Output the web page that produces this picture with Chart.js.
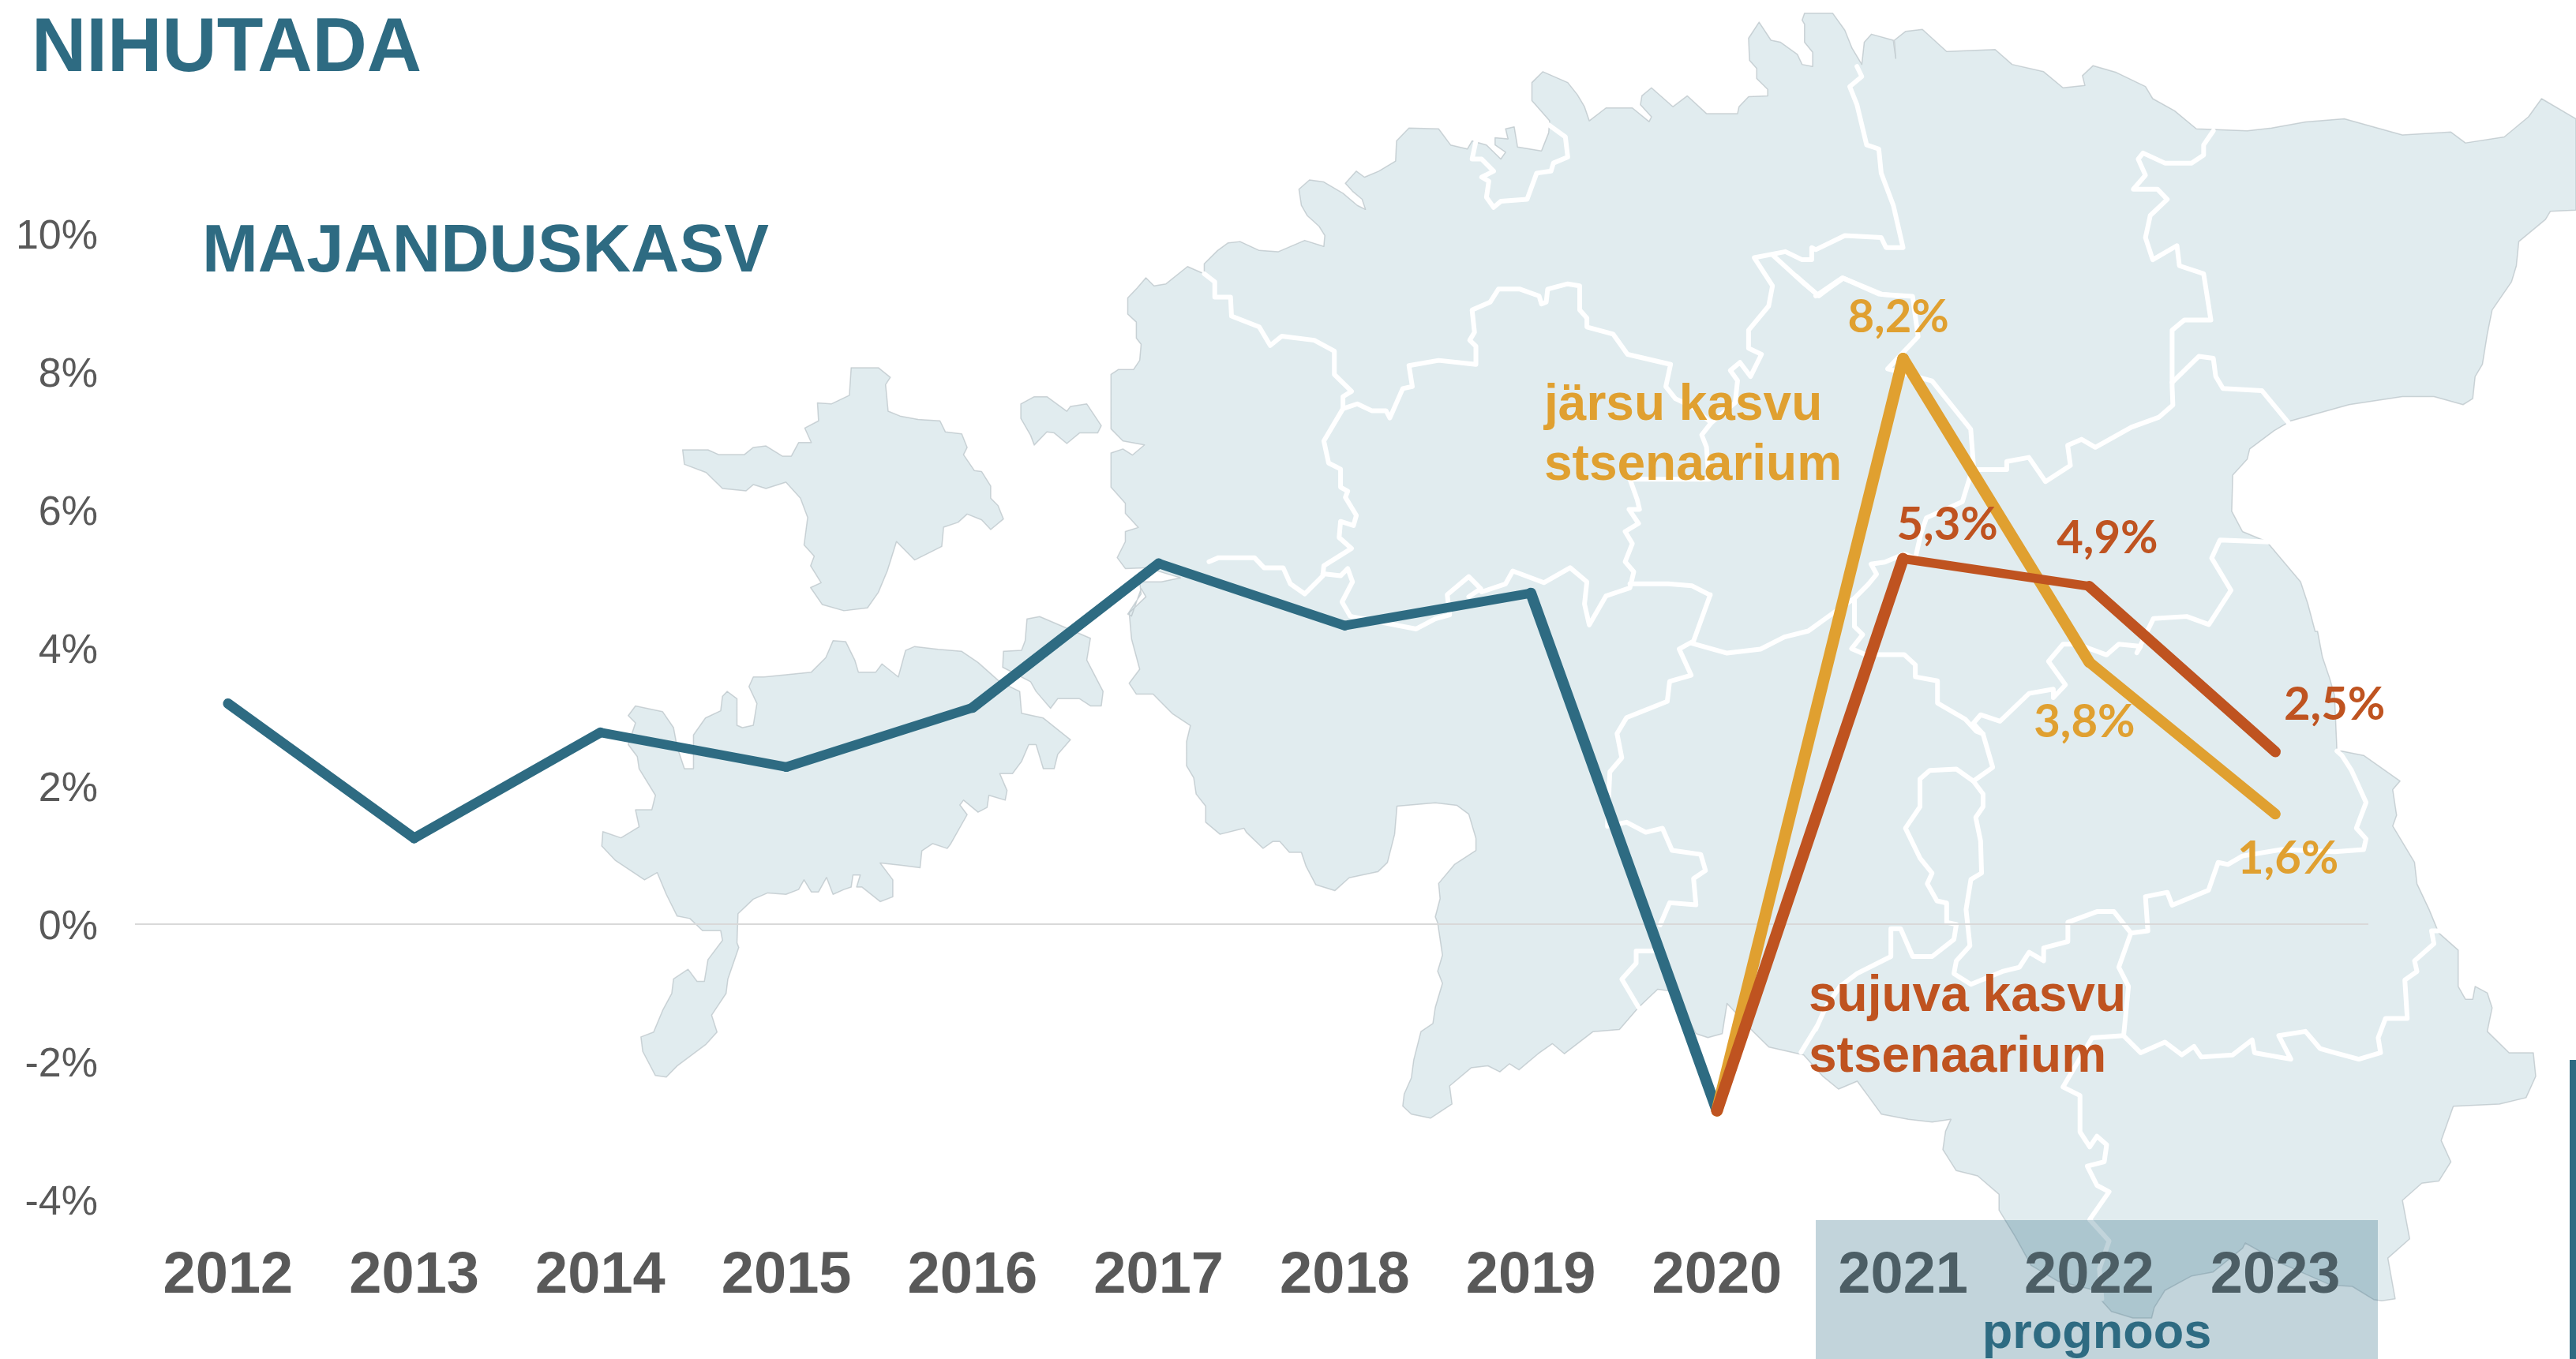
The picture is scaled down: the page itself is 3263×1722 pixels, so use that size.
<!DOCTYPE html>
<html lang="et"><head><meta charset="utf-8">
<script src="https://cdn.jsdelivr.net/npm/chart.js@4/dist/chart.umd.js"></script>
<style>html,body{margin:0;padding:0;background:#fff}canvas{display:block}</style>
</head><body><canvas id="c" width="3263" height="1722"></canvas>
<script>
// ---------- data ----------
const years = ['2012','2013','2014','2015','2016','2017','2018','2019','2020','2021','2022','2023'];
const actual = [3.2,1.25,2.78,2.28,3.14,5.23,4.33,4.8,-2.7,null,null,null];
const fastScenario = [null,null,null,null,null,null,null,null,-2.7,8.2,3.8,1.6];
const smoothScenario = [null,null,null,null,null,null,null,null,-2.7,5.3,4.9,2.5];
const yTicks = [-4,-2,0,2,4,6,8,10];

// ---------- colours / fonts ----------
const TEAL='#2E6B82', GOLD='#E0A030', RUST='#BF5320', GREY='#595959', LAND='#E1ECEF';
const SANS='"Liberation Sans", Arial, sans-serif', LATO='Lato, sans-serif';

// ---------- decorative Estonia map, traced as page background ----------
const frames={A:[1380,0,950,800,1568,1568],B:[2300,0,963,800,1568,1568],C:[1400,700,950,800,1568,1568],
 D:[2300,800,963,850,1568,1568],E:[2200,1300,1063,422,1568,1266],F:[720,420,720,960,1568,1568],Z:[1900,350,1100,800,1568,1568]};
const mapMain=[
['A',45,930,60,918,92,918,105,895,108,855,98,840,98,800,80,780,80,740,100,715,118,690,135,710,160,705,205,662,240,680,240,655,268,622,290,603,315,600,355,622,395,625,450,597,490,612,492,585,480,562,455,535,443,510,438,470,460,447,490,452,530,480,560,510,577,520,570,495,550,475,535,455,558,425,575,440,605,425,640,400,642,350,668,318,730,320,755,360,790,370,800,350,830,360,860,395,870,378,848,360,848,342,875,345,870,320,888,315,895,365,945,375,960,330,962,300,925,250,925,205,948,178,1000,205,1020,235,1035,265,1045,300,1080,268,1135,268,1170,302,1175,290,1152,260,1155,238,1175,218,1220,265,1250,238,1290,282,1355,282,1358,265,1378,240,1418,238,1418,222,1395,195,1395,170,1380,150,1378,95,1400,55,1425,100,1445,105,1480,135,1490,160,1512,165,1512,130,1495,105,1495,60,1490,50,1495,33],
['B',35,33,60,75,75,120,95,160,100,105,115,85,160,100,165,145,162,100,185,78,220,73,270,128,370,123,405,160,470,178,510,218,555,212,550,188,572,163,620,180,680,215,695,245,740,275,785,320,890,325,940,318,1010,303,1090,295,1210,335,1310,328,1340,355,1420,340,1470,290,1497,245,1568,295,1568,522,1515,525,1505,545,1450,600,1445,660,1435,700,1395,770,1385,830,1375,905,1360,935,1355,990,1335,1005,1275,985,1210,985,1100,1005,980,1045,945,1070,895,1115,890,1140,860,1180,858,1270,880,1320,930,1345,1000,1445,1015,1500,1030,1568],
['D',1035,0,1045,60,1060,110,1070,150,1075,280,1085,280,1130,290,1205,350,1190,370,1198,430,1190,455,1235,540,1240,590,1265,650,1285,705,1325,745,1325,830,1340,860,1355,860,1360,830,1385,845,1395,880,1385,935,1430,985,1480,985,1485,1040,1465,1090,1410,1105,1315,1110,1290,1190,1310,1240,1285,1285,1250,1290,1210,1330,1225,1420,1180,1465,1195,1560],
['E',1205,1045,1190,1040,1150,990,1110,985,1020,905,950,825,945,845,890,935,850,950,800,1005,780,1070,775,1110,740,1110,700,1085,680,1040,680,1010,600,970,550,910,520,800,490,700,490,640,450,570,410,550,385,470,390,400,400,355,365,365,320,355,270,335,245,265,225,210,190,240,160,190,125,110,60,80,30,20],
['C',1300,1120,1290,1195,1260,1205,1235,1195,1185,1090,1155,1085,1115,1130,1075,1185,1020,1190,960,1245,935,1220,905,1245,865,1285,845,1270,825,1290,800,1275,765,1280,720,1325,725,1370,680,1405,640,1395,622,1375,625,1345,640,1305,645,1260,660,1190,685,1170,690,1130,705,1070,695,1040,705,1000,695,920,690,905,700,860,697,822,730,775,775,740,775,710,760,650,735,628,690,622,610,630,605,700,590,770,570,793,510,808,480,840,440,825,420,780,410,745,385,745,365,718,350,718,330,735,295,695,290,685,240,700,210,670,210,630,190,600,185,560,170,530,170,470,178,430,140,400,115,370,100,352,65,352,50,325,72,290,55,215,50,150,85,110,75,90],
['A',88,1530,80,1525,108,1475,105,1445,150,1445,190,1435,120,1410,75,1412,58,1385,75,1345,75,1320,102,1310,75,1275,75,1250,45,1210,45,1125,70,1115,90,1130,115,1105,70,1095,45,1065]
];
const mapIslands=[
[['F',315,245,385,245,415,255,485,255,510,240,545,237,590,258,615,258,635,230,670,230,652,200,690,185,687,148,725,150,775,132,780,75,855,75,888,95,875,110,882,165,915,175,965,182,1025,185,1040,208,1085,212,1100,240,1090,255,1120,288,1140,290,1165,320,1165,345,1185,360,1200,388,1165,410,1140,390,1100,378,1075,395,1035,405,1030,445,990,460,955,473,905,435,880,495,855,540,825,572,760,578,700,565,668,530,697,520,668,485,678,465,650,442,660,385,640,345,600,312,545,325,510,317,490,330,425,325,380,292,320,275]],
[['F',165,795,185,775,260,787,290,820,300,860,320,905,345,905,345,835,378,800,420,785,425,755,438,745,465,760,465,815,480,820,510,815,520,770,498,735,510,715,540,715,670,705,710,675,730,640,765,642,790,680,800,705,848,705,865,688,910,715,930,660,955,652,1020,658,1085,662,1130,685,1190,725,1245,745,1250,790,1310,800,1385,845,1350,875,1340,905,1310,905,1290,855,1270,855,1250,890,1225,915,1190,915,1210,950,1205,970,1160,960,1155,985,1130,995,1090,970,1080,980,1100,1000,1055,1060,1045,1070,1005,1060,975,1075,970,1110,920,1105,860,1100,895,1135,895,1170,860,1180,810,1150,795,1150,805,1125,785,1125,780,1150,760,1155,730,1165,712,1130,690,1160,670,1160,650,1135,635,1155,600,1165,550,1162,510,1175,468,1205,465,1265,470,1275,440,1340,435,1370,395,1415,410,1450,380,1475,300,1520,270,1543,240,1540,205,1490,200,1460,235,1450,260,1405,285,1370,290,1340,330,1320,355,1345,375,1345,385,1300,425,1260,420,1240,370,1240,335,1215,300,1210,270,1165,245,1120,210,1135,130,1095,92,1065,95,1035,145,1048,195,1025,185,990,230,990,240,960,195,905,190,880,165,855,185,810]],
[['F',1265,595,1300,590,1440,635,1430,680,1475,745,1470,775,1440,775,1410,760,1375,760,1350,760,1330,780,1290,745,1275,725,1198,695,1200,662,1250,660,1260,640]],
[['F',1248,150,1285,135,1320,135,1375,165,1385,155,1430,150,1470,195,1460,210,1410,210,1375,232,1340,210,1320,208,1285,235,1275,215,1248,180]]
];
const mapBorders=[
[['A',240,680,262,700,262,738,295,738,297,785,355,812,378,858,402,835,470,845,512,872,512,930,548,972,530,985,530,1015,490,1095,500,1150,525,1165,525,1210,540,1220,535,1235,558,1280,552,1305,525,1295,522,1335,548,1362,490,1405,488,1430,450,1475,420,1450,405,1410,365,1410,345,1385,270,1385,250,1395]],
[['A',488,1425,525,1430,540,1412,550,1445,528,1495,545,1530],['C',518,160,650,190,690,165,720,155,715,105,760,60,785,90,760,110]],
[['A',530,1015,560,1003,590,1020,620,1020,628,1038,655,965,675,960,668,908,730,895,808,905,808,860,795,845,805,825,800,770,838,750,855,718,900,718,940,735,945,755,955,750,958,718,1000,705,1025,710,1025,770,1040,790,1040,812,1095,830,1125,880,1215,905,1205,960,1225,990,1260,1010,1300,1050,1280,1080,1290,1110,1295,1190,1130,1190,1145,1240,1150,1265,1128,1265,1148,1300,1120,1320,1135,1350,1120,1395,1138,1420,1130,1460,1105,1470,1080,1480,1045,1552,1035,1500,1040,1445,1005,1410,950,1447,885,1418,870,1450,820,1470]],
[['A',1130,1450,1210,1450,1260,1455,1298,1478],['C',1265,105,1230,220,1200,240,1225,305,1180,320,1175,370,1090,410,1070,450,1080,510,1055,545,1050,680,1090,670,1130,695,1165,685,1185,740,1245,750,1255,790,1230,810,1235,875,1180,870,1160,925]],
[['C',1160,990,1110,990,1110,1020,1080,1060,1115,1130]],
[['C',1225,225,1300,250,1370,240,1420,210,1470,195,1540,135],['Z',640,800,665,765,680,740,670,715,695,710,730,690,750,700,760,640,770,600,835,560,855,470,850,380,780,260,700,230,755,150,745,50,690,45,620,5,575,48,535,0]],
[['Z',640,800,640,870,655,890,635,925,660,940,730,940,750,965,750,995,790,1005,790,1060,840,1100,860,1130],['D',345,240,365,318,325,350,290,322,235,325,215,345,215,410,185,460,215,530,240,565,230,590,250,630,270,635,270,680,290,685,285,720,240,760,200,760,175,695,155,695,155,760,85,800,50,830,20,880,0,930],['E',150,0,120,100]],
[['D',325,350,345,380,345,410,330,435,340,490,342,565,320,580,310,650,318,735,290,770,285,800,320,825,385,795,420,785,440,750,470,770,470,740,520,725,520,680,580,655,615,655,650,705,685,700,680,620,725,610,735,640,810,605,830,540,850,545,880,525,960,510,1070,515,1130,510,1135,485,1115,460,1135,400,1105,325,1085,290,1075,280]],
[['D',345,240,325,215,340,195,380,210,440,145,490,135,490,155,515,125,480,70,510,30,540,30,600,55,625,30,670,35],['Z',1150,935,1180,850,1240,845,1280,865,1320,780,1285,700,1300,655,1390,660]],
[['D',650,705,625,785,645,830,635,945,670,985,720,960,755,990,780,970,795,995,860,990,900,955,905,985,980,1000,955,945,1010,935,1040,975,1070,985,1120,1000,1165,985,1160,950,1175,905,1220,905,1215,815,1240,795,1235,770,1275,730,1270,700,1290,700]],
[['D',635,945,570,950,510,1065,545,1085,545,1170,565,1205,580,1180,600,1200,595,1240,560,1250,580,1295,605,1310,565,1375,605,1425,585,1490,590,1560]],
[['B',85,165,95,190,70,215,85,260,105,360,130,370,135,430,160,510,180,615,145,615,135,590,60,585,0,620],['A',1510,615,1510,645,1490,645,1455,625,1390,640,1428,710,1420,760,1378,820,1378,865,1405,880,1382,935,1360,900,1340,920,1355,945,1350,1000,1300,1050]],
[['A',1430,635,1490,700,1525,735,1568,695],['B',0,735,55,690,130,730,170,735]],
[['Z',855,480,915,480,915,460,955,450,985,510,1030,470,1025,420,1050,405,1075,425,1140,375,1190,350,1215,320],['B',735,960,735,820,760,795,815,795,800,680,750,660,745,610,695,645,680,590,690,535,725,495,705,470,655,470,680,435,665,395,675,380,720,405,775,405,800,385,800,360,820,325]],
[['B',735,950,790,885,820,890,825,935,840,965,920,970,975,1050]],
[['A',960,310,995,340,1000,390,970,405,965,425,935,430,915,495,860,500,845,515,830,490,835,450,820,440,845,425,820,395,800,395,808,350]]
];
function toPoints(path){const out=[];for(const seg of path){const [fx,fy,fw,fh,dw,dh]=frames[seg[0]];
  for(let i=1;i<seg.length;i+=2)out.push([fx+seg[i]*fw/dw,fy+seg[i+1]*fh/dh]);}return out;}
function tracePath(ctx,pts,close){pts.forEach((p,i)=>i?ctx.lineTo(p[0],p[1]):ctx.moveTo(p[0],p[1]));if(close)ctx.closePath();}

const mapPlugin={id:'map',beforeDraw(chart){const ctx=chart.ctx;ctx.save();
  ctx.fillStyle='#fff';ctx.fillRect(0,0,chart.width,chart.height);
  ctx.lineJoin='round';ctx.lineCap='round';
  ctx.beginPath();tracePath(ctx,toPoints(mapMain),true);
  for(const isl of mapIslands)tracePath(ctx,toPoints(isl),true);
  ctx.fillStyle=LAND;ctx.fill();
  ctx.strokeStyle='rgba(170,180,185,.55)';ctx.lineWidth=1.5;ctx.stroke();
  ctx.strokeStyle='#fff';ctx.lineWidth=6;
  for(const b of mapBorders){ctx.beginPath();tracePath(ctx,toPoints(b),false);ctx.stroke();}
  ctx.restore();}};

// ---------- annotations ----------
const valueLabelOffsets={ fast:{9:[-6,-52],10:[-6,76],11:[16,57]}, smooth:{9:[56,-43],10:[23,-61],11:[75,-59]} };
const overlayPlugin={id:'overlay',afterDraw(chart){const ctx=chart.ctx,x=chart.scales.x,y=chart.scales.y;ctx.save();
  // forecast band sits over the tick labels
  ctx.fillStyle='rgba(46,107,130,.29)';ctx.fillRect(2300,1546,712,176);
  ctx.fillStyle=TEAL;ctx.fillRect(3255,1343,8,379);
  ctx.textBaseline='alphabetic';ctx.textAlign='left';
  ctx.fillStyle=TEAL;ctx.font='bold 96px '+SANS;ctx.fillText('NIHUTADA',40,90);
  ctx.font='bold 85px '+SANS;ctx.fillText('MAJANDUSKASV',256,344);
  ctx.textAlign='center';ctx.font='bold 63px '+SANS;ctx.fillText('prognoos',2656,1708);
  ctx.textAlign='left';ctx.font='bold 64px '+SANS;
  ctx.fillStyle=GOLD;ctx.fillText('järsu kasvu',1956,532);ctx.fillText('stsenaarium',1956,608);
  ctx.fillStyle=RUST;ctx.fillText('sujuva kasvu',2291,1281);ctx.fillText('stsenaarium',2291,1358);
  ctx.textAlign='center';ctx.textBaseline='middle';ctx.font='bold 58px '+LATO;
  const put=(vals,offs,col)=>{ctx.fillStyle=col;for(const i in offs){
    ctx.fillText(vals[i].toFixed(1).replace('.',',')+'%',x.getPixelForValue(+i)+offs[i][0],y.getPixelForValue(vals[i])+offs[i][1]);}};
  put(fastScenario,valueLabelOffsets.fast,GOLD);
  put(smoothScenario,valueLabelOffsets.smooth,RUST);
  ctx.restore();}};

// the reference is slightly wider than tall, so steep stretches read thicker than flat ones
const slopeWidth=(flat,steep)=>c=>{const dx=c.p1.x-c.p0.x,dy=c.p1.y-c.p0.y;
  return flat+(steep-flat)*Math.abs(dy)/Math.hypot(dx,dy);};
const lineStyle=(c,flat,steep)=>({borderColor:c,backgroundColor:c,borderWidth:flat,pointRadius:0,tension:0,fill:false,
  borderCapStyle:'round',borderJoinStyle:'round',spanGaps:false,clip:false,segment:{borderWidth:slopeWidth(flat,steep)}});

new Chart(document.getElementById('c'),{
  type:'line',
  data:{labels:years,datasets:[
    {label:'Majanduskasv',data:actual,order:3,...lineStyle(TEAL,11.5,14)},
    {label:'järsu kasvu stsenaarium',data:fastScenario,order:2,...lineStyle(GOLD,11,15)},
    {label:'sujuva kasvu stsenaarium',data:smoothScenario,order:1,...lineStyle(RUST,11,15)}
  ]},
  options:{responsive:false,animation:false,devicePixelRatio:1,
    layout:{padding:{top:297,right:263,left:0,bottom:0}},
    plugins:{legend:{display:false},title:{display:false},tooltip:{enabled:false}},
    scales:{
      x:{type:'category',offset:true,grid:{display:false},border:{display:false},
        ticks:{color:GREY,font:{family:SANS,size:74,weight:'bold'},padding:44,maxRotation:0,autoSkip:false},
        afterFit(s){s.height=201;s.paddingLeft=0;s.paddingRight=0;}},
      y:{type:'linear',min:-4,max:10,border:{display:false},
        afterBuildTicks(s){s.ticks=yTicks.map(v=>({value:v}));},
        grid:{drawTicks:false,lineWidth:2,color:c=>c.tick&&c.tick.value===0?'#D9D9D9':'rgba(0,0,0,0)'},
        ticks:{color:GREY,font:{family:SANS,size:52},padding:47,callback:v=>v+'%'},
        afterFit(s){s.width=171;s.paddingTop=0;s.paddingBottom=0;
          // tick labels sit a few pixels below the gridline position in the reference
          if(!s._shifted){const orig=s.drawLabels;s._shifted=true;
            s.drawLabels=function(a){const g=this.ctx;g.save();g.translate(0,4);orig.call(this,a);g.restore();};}}}
    }
  },
  plugins:[mapPlugin,overlayPlugin]
});
</script></body></html>
